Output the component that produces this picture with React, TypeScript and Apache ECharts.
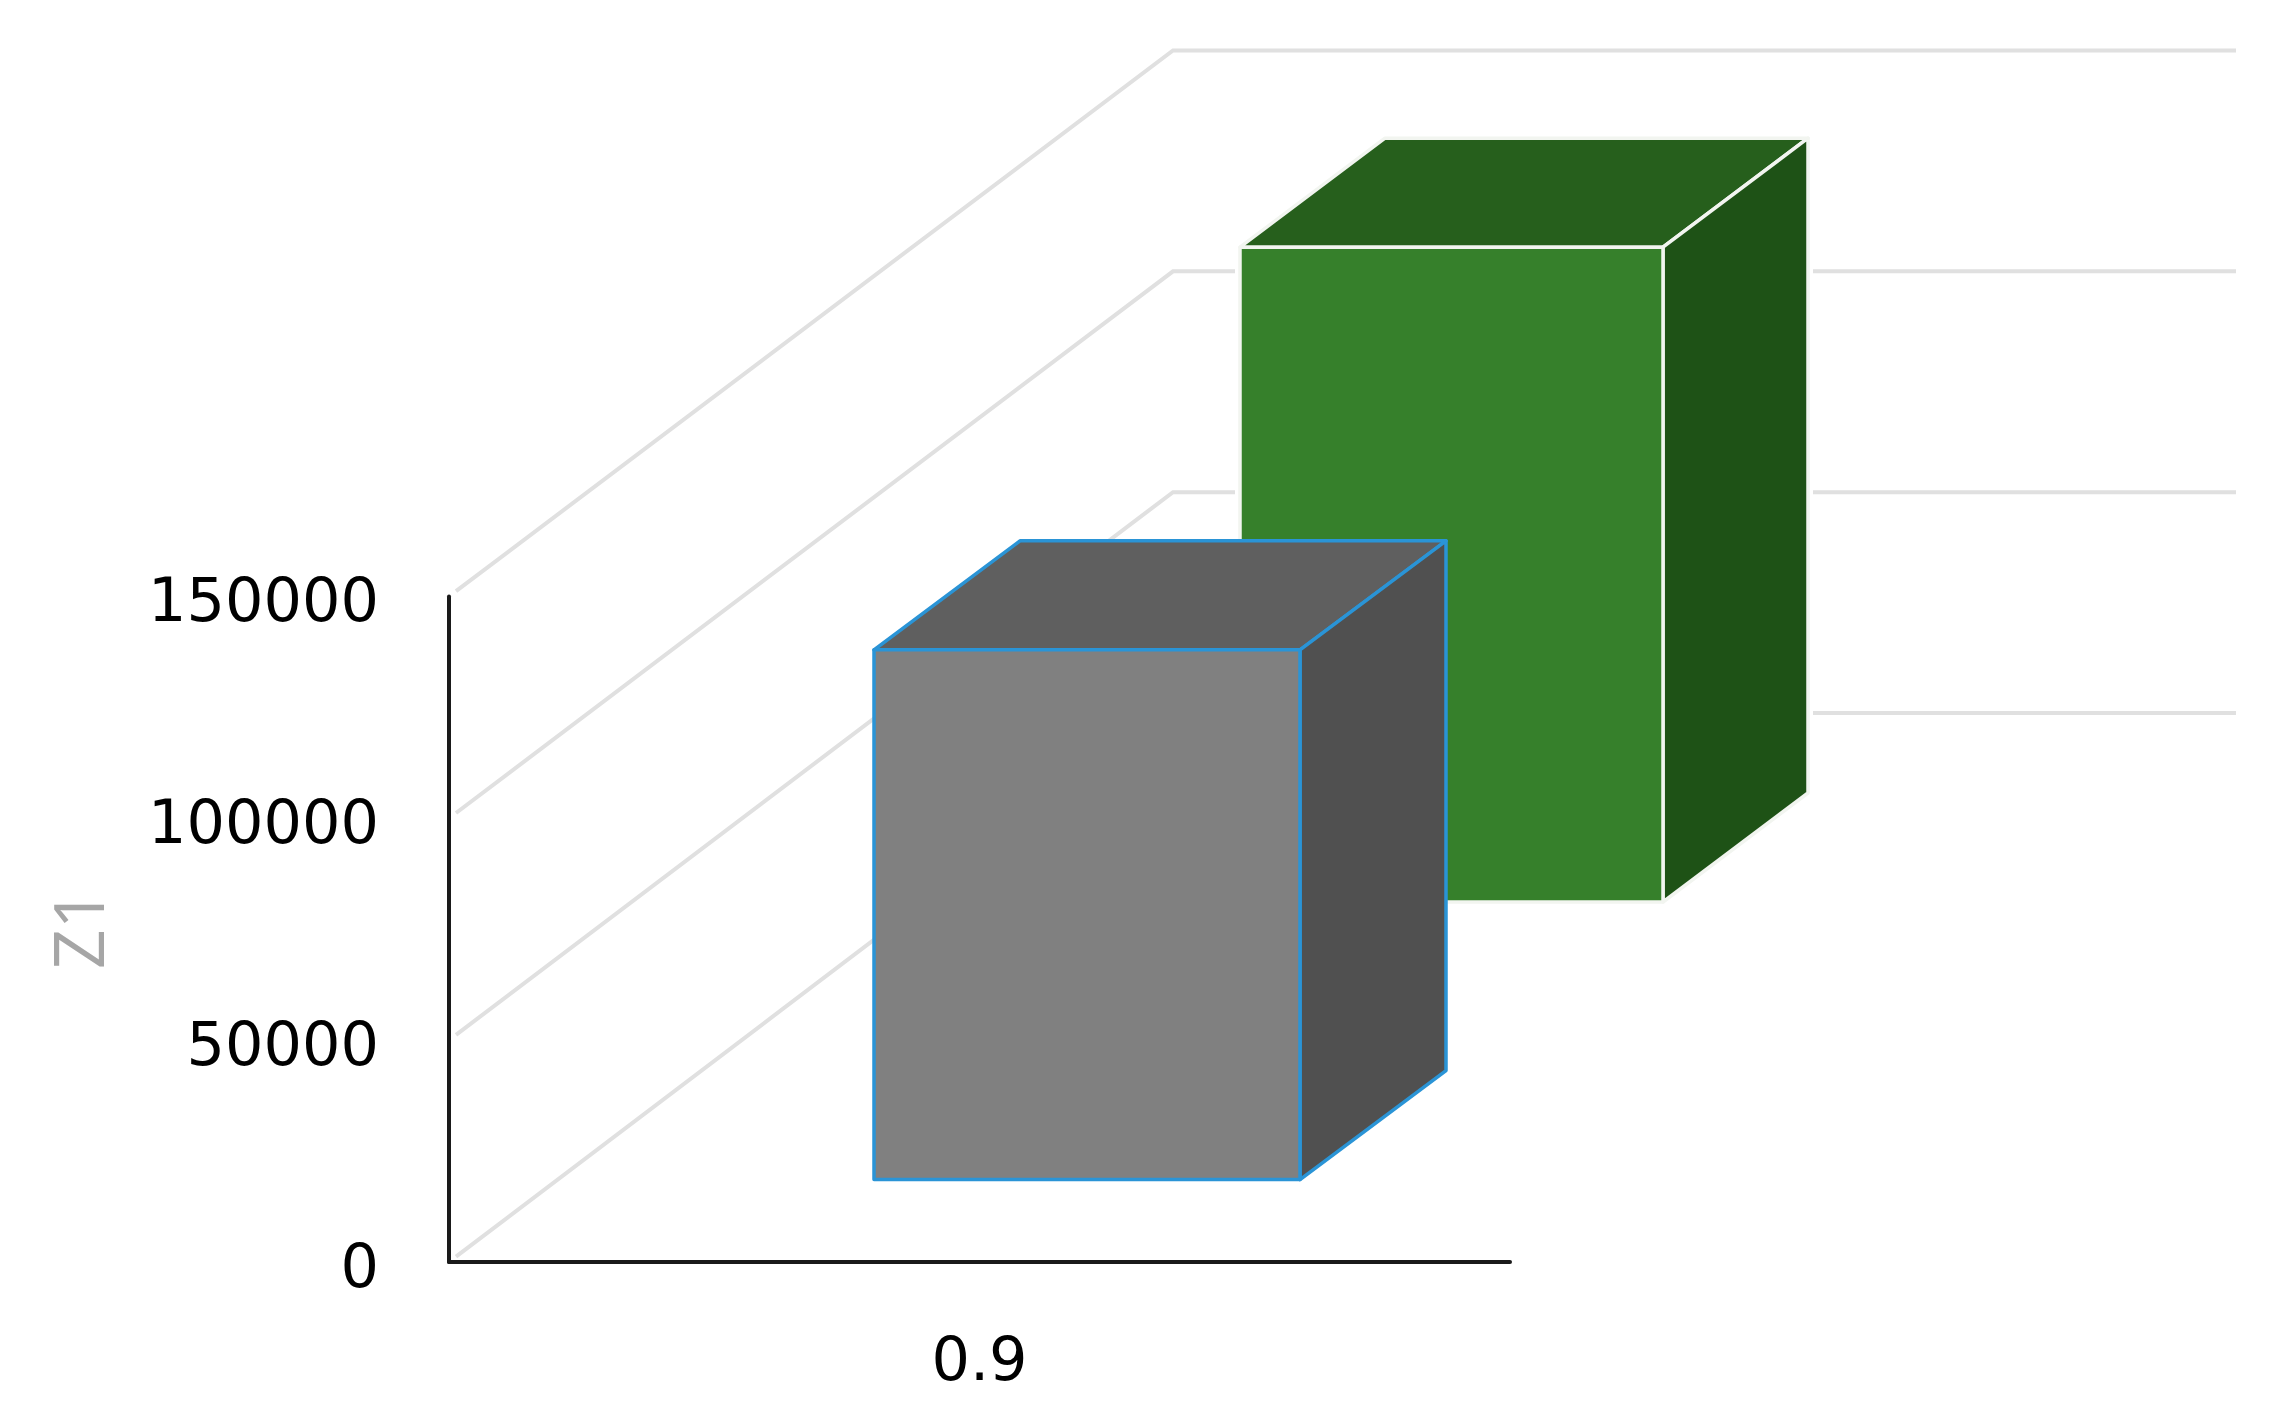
import React, { useEffect, useRef } from "react";
import * as echarts from "echarts";

const categories = ["0.9"];
const seriesFront = [119400];
const seriesBack = [147600];
const tickValues = [0, 50000, 100000, 150000];
const axisName = "Z1";

const W = 2277;
const H = 1426;
const WALL = { dx: 724, dy: 549, rightX: 2236, start: 7, scale: 0.9955 };
const FRONT_BOX = { dx: 107.5, dy: 82.4, width: 426, depthX: 146, depthY: 109 };
const BACK_BOX = { dx: 472, dy: 360, width: 423, depthX: 145, depthY: 109 };
const FONT = "DejaVu Sans";
const LABEL_SIZE = 60.5;

function box(api: any, b0: any, colors: any, stroke: string, lineWidth: number, halo: boolean) {
  const top = api.coord([api.value(0), api.value(1)]);
  const base = api.coord([api.value(0), 0]);
  const l = top[0] + b0.dx - b0.width / 2;
  const r = l + b0.width;
  const t = top[1] - b0.dy;
  const b = base[1] - b0.dy;
  const dx = b0.depthX;
  const dy = b0.depthY;
  const face = (points: number[][], fill: string) => ({
    type: "polygon",
    shape: { points },
    style: { fill, stroke, lineWidth, lineJoin: "round" },
  });
  const children: any[] = [];
  if (halo) {
    children.push({
      type: "polygon",
      shape: {
        points: [[l, t], [l + dx, t - dy], [r + dx, t - dy], [r + dx, b - dy], [r, b], [l, b]],
      },
      style: { fill: "#ffffff", stroke: "#ffffff", lineWidth: 10 },
    });
  }
  children.push(face([[l, t], [r, t], [r + dx, t - dy], [l + dx, t - dy]], colors.top));
  children.push(face([[r, t], [r + dx, t - dy], [r + dx, b - dy], [r, b]], colors.side));
  children.push(face([[l, t], [r, t], [r, b], [l, b]], colors.front));
  return { type: "group", children };
}

export default function App() {
  const ref = useRef<HTMLDivElement>(null);
  useEffect(() => {
    const chart = echarts.init(ref.current!, undefined, { renderer: "svg" });
    chart.setOption({
      animation: false,
      backgroundColor: "#ffffff",
      grid: { left: 449, right: W - 1510, top: 596.5, bottom: H - 1262 },
      xAxis: {
        type: "category",
        data: categories,
        axisLine: { lineStyle: { color: "#1a1a1a", width: 4 } },
        axisTick: { show: false },
        axisLabel: { fontFamily: FONT, fontSize: LABEL_SIZE, color: "#000000", margin: 66 },
      },
      yAxis: {
        type: "value",
        min: 0,
        max: 150000,
        interval: 50000,
        name: axisName,
        nameLocation: "middle",
        nameGap: 337,
        nameTextStyle: { fontFamily: "Open Sans", fontSize: 70, color: "#a6a6a6" },
        axisLine: { show: true, lineStyle: { color: "#1a1a1a", width: 4 } },
        axisTick: { show: false },
        splitLine: { show: false },
        axisLabel: {
          fontFamily: FONT,
          fontSize: LABEL_SIZE,
          color: "#000000",
          margin: 70,
          verticalAlign: "top",
          lineHeight: 7,
          formatter: (v: number) => String(v),
        },
      },
      series: [
        {
          type: "custom",
          coordinateSystem: "cartesian2d",
          z: 2,
          silent: true,
          data: tickValues.map((v) => [0, v]),
          encode: { x: 0, y: 1 },
          renderItem: (params: any, api: any) => {
            const p = api.coord([0, api.value(1)]);
            const base = api.coord([0, 0]);
            const x0 = params.coordSys.x;
            const slope = WALL.dy / WALL.dx;
            const backY = base[1] - WALL.dy - (base[1] - p[1]) * WALL.scale;
            return {
              type: "polyline",
              shape: {
                points: [
                  [x0 + WALL.start, p[1] - WALL.start * slope],
                  [x0 + WALL.dx, backY],
                  [WALL.rightX, backY],
                ],
              },
              style: { fill: "none", stroke: "#e0e0e0", lineWidth: 4 },
            };
          },
        },
        {
          type: "custom",
          coordinateSystem: "cartesian2d",
          z: 3,
          silent: true,
          data: seriesBack.map((v, i) => [i, v]),
          encode: { x: 0, y: 1 },
          renderItem: (_p: any, api: any) =>
            box(api, BACK_BOX, { front: "#36802b", top: "#265f1c", side: "#1e5216" }, "#f2f5f0", 3.5, true),
        },
        {
          type: "custom",
          coordinateSystem: "cartesian2d",
          z: 4,
          silent: true,
          data: seriesFront.map((v, i) => [i, v]),
          encode: { x: 0, y: 1 },
          renderItem: (_p: any, api: any) =>
            box(api, FRONT_BOX, { front: "#808080", top: "#5f5f5f", side: "#505050" }, "#2a94d6", 3.5, false),
        },
      ],
    });
    return () => chart.dispose();
  }, []);
  return <div ref={ref} style={{ position: "fixed", left: 0, top: 0, width: W, height: H }} />;
}
